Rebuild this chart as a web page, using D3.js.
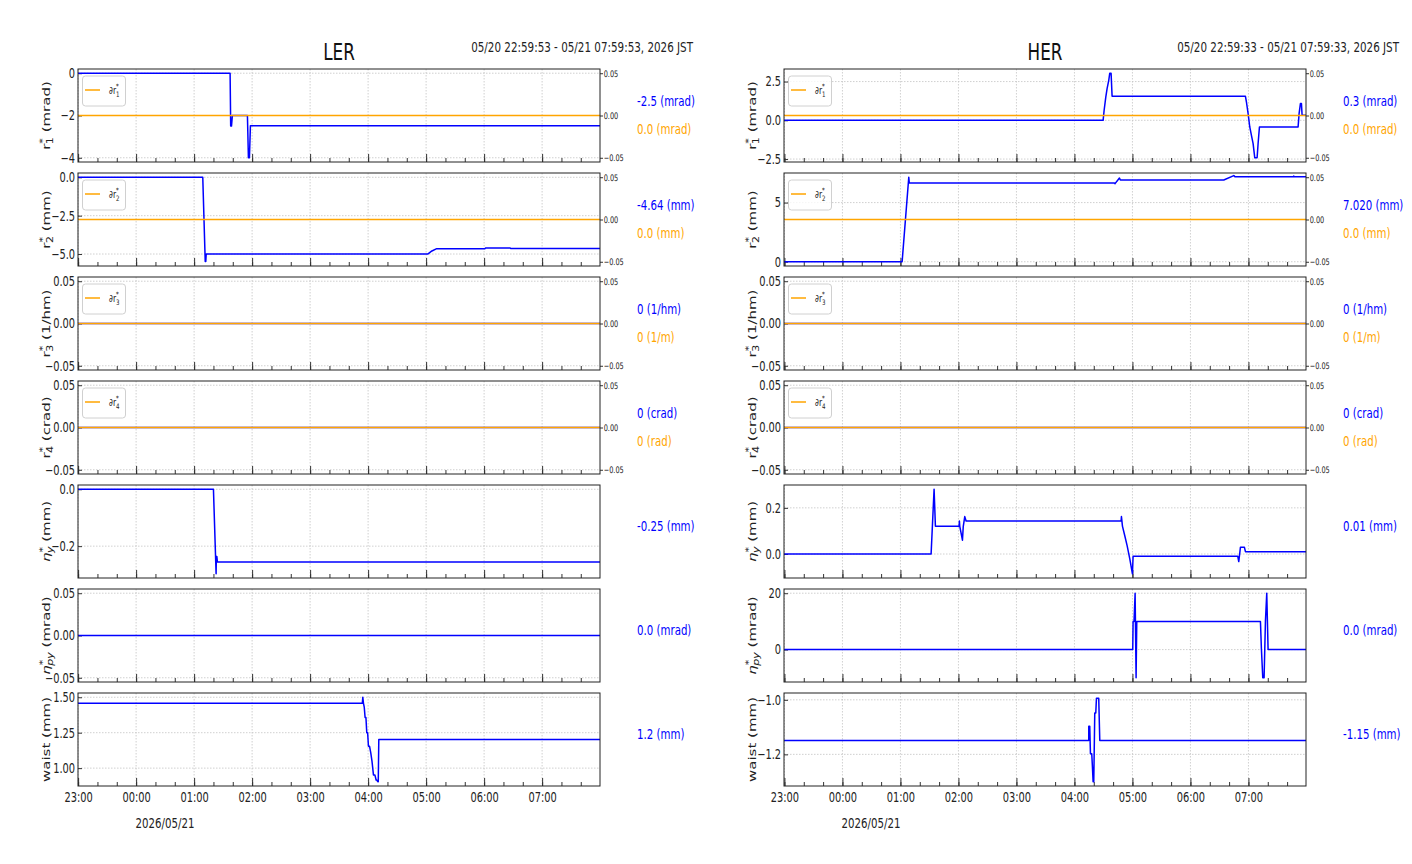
<!DOCTYPE html>
<html>
<head>
<meta charset="utf-8">
<style>
body { margin: 0; background: #fff; }
text { font-family: "DejaVu Sans", sans-serif; }
</style>
</head>
<body>
<svg id="chart" width="1412" height="864"></svg>
<script src="https://cdn.jsdelivr.net/npm/d3@7"></script>
<script>
// ---- data, [time, value] ----
var lerRange = ["22:59:53", "07:59:53"];
var herRange = ["22:59:33", "07:59:33"];

var lerR1 = [["22:59:53",0],["01:37:14",0],["01:37:50",-2.5],["01:38:40",-2.5],["01:39:35",-2.0],["01:55:09",-2.0],
  ["01:56:10",-4.0],["01:57:13",-4.0],["01:58:15",-2.48],["07:59:53",-2.48]];
var lerR2 = [["22:59:53",0],["01:08:57",0],["01:11:30",-5.48],["01:12:05",-5.48],["01:12:30",-4.99],["05:02:00",-4.99],
  ["05:06:00",-4.8],["05:11:00",-4.65],["06:01:00",-4.65],["06:01:30",-4.61],["06:27:00",-4.61],["06:27:30",-4.64],["07:59:53",-4.64]];
var lerR3 = [["22:59:53",0],["07:59:53",0]];
var lerR4 = [["22:59:53",0],["07:59:53",0]];
var lerEtaY = [["22:59:53",0],["01:20:00",0],["01:22:45",-0.297],["01:23:00",-0.236],["01:23:30",-0.236],["01:24:07",-0.256],["07:59:53",-0.256]];
var lerEtaPy = [["22:59:53",0],["07:59:53",0]];
var lerWaist = [["22:59:53",1.457],["03:54:00",1.457],["03:54:31",1.50],["03:55:12",1.457],["03:56:00",1.43],["03:56:53",1.357],
  ["03:57:45",1.357],["03:58:37",1.25],["03:59:30",1.25],["04:00:21",1.154],["04:01:30",1.154],["04:02:45",1.107],
  ["04:04:00",1.05],["04:05:31",0.952],["04:07:00",0.952],["04:08:17",0.916],["04:09:00",0.916],["04:10:00",0.904],
  ["04:10:30",0.904],["04:11:03",1.202],["07:59:53",1.202]];
var lerDr = [["22:59:53",0],["07:59:53",0]];

var herR1 = [["22:59:33",0],["04:29:40",0],["04:30:43",0.65],["04:32:26",1.5],["04:33:47",2.04],["04:35:30",2.58],
  ["04:36:33",3.04],["04:37:55",3.04],["04:38:57",1.55],["06:56:54",1.55],["06:57:56",1.18],["06:59:40",0.43],
  ["07:01:23",-0.43],["07:03:06",-0.97],["07:04:50",-1.5],["07:06:33",-2.42],["07:08:58",-2.42],["07:10:00",-1.5],
  ["07:11:23",-0.43],["07:51:22",-0.43],["07:52:24",0.43],["07:53:47",1.08],["07:54:50",1.08],["07:55:31",0.32],["07:59:33",0.32]];
var herR2 = [["22:59:33",0],["01:01:45",0],["01:08:38",7.14],["01:09:10",6.65],["04:41:24",6.65],["04:42:00",6.6],
  ["04:46:34",7.08],["04:47:30",6.91],["06:34:30",6.91],["06:44:50",7.28],["06:46:00",7.19],["07:46:30",7.19],
  ["07:46:50",7.24],["07:47:20",7.19],["07:59:33",7.19]];
var herR3 = [["22:59:33",0],["07:59:33",0]];
var herR4 = [["22:59:33",0],["07:59:33",0]];
var herEtaY = [["22:59:33",0],["01:31:44",0],["01:34:49",0.281],["01:36:11",0.12],["02:00:41",0.12],["02:01:00",0.143],
  ["02:01:23",0.12],["02:04:09",0.06],["02:05:00",0.12],["02:06:33",0.162],["02:07:56",0.143],["04:48:17",0.143],
  ["04:48:38",0.162],["04:49:40",0.121],["04:52:05",0.079],["04:54:30",0.036],["04:57:16",-0.021],["05:00:00",-0.086],
  ["05:00:41",-0.01],["06:48:58",-0.01],["06:50:00",-0.033],["06:51:43",0.029],["06:55:52",0.029],["06:56:54",0.01],["07:59:33",0.01]];
var herEtaPy = [["22:59:33",0],["05:00:20",0],["05:00:41",10],["05:01:40",10],["05:02:46",20],["05:03:47",-10],
  ["05:04:29",10],["07:12:25",10],["07:13:27",0],["07:14:50",-10],["07:16:12",-10],["07:17:35",10],["07:18:57",20],
  ["07:20:20",0],["07:59:33",0]];
var herWaist = [["22:59:33",-1.149],["04:14:49",-1.149],["04:14:50",-1.097],["04:15:50",-1.097],["04:16:34",-1.198],
  ["04:17:55",-1.198],["04:18:37",-1.246],["04:19:19",-1.30],["04:20:00",-1.30],["04:21:02",-1.048],["04:22:05",-1.048],
  ["04:22:46",-0.994],["04:25:08",-0.994],["04:26:13",-1.149],["07:59:33",-1.149]];
var herDr = [["22:59:33",0],["07:59:33",0]];

// labels
var lerValues = [["-2.5 (mrad)","0.0 (mrad)"],["-4.64 (mm)","0.0 (mm)"],["0 (1/hm)","0 (1/m)"],["0 (crad)","0 (rad)"],
  ["-0.25 (mm)"],["0.0 (mrad)"],["1.2 (mm)"]];
var herValues = [["0.3 (mrad)","0.0 (mrad)"],["7.020 (mm)","0.0 (mm)"],["0 (1/hm)","0 (1/m)"],["0 (crad)","0 (rad)"],
  ["0.01 (mm)"],["0.0 (mrad)"],["-1.15 (mm)"]];
var yLabels = [
  {b:"r", sup:"*", sub:"1", unit:" (mrad)"},
  {b:"r", sup:"*", sub:"2", unit:" (mm)"},
  {b:"r", sup:"*", sub:"3", unit:" (1/hm)"},
  {b:"r", sup:"*", sub:"4", unit:" (crad)"},
  {b:"\u03b7", it:true, sup:"*", sub:"y", unit:" (mm)"},
  {b:"\u03b7", it:true, sup:"*", sub:"py", unit:" (mrad)"},
  {b:"waist", unit:" (mm)"}
];
var legendSubs = ["1","2","3","4"];

// axis limits and ticks per panel
var lerAxes = [
  {domain:[-4.2,0.2], ticks:[-4,-2,0], fmt:"d"},
  {domain:[-5.78,0.28], ticks:[-5,-2.5,0], fmt:".1f"},
  {domain:[-0.055,0.055], ticks:[-0.05,0,0.05], fmt:".2f"},
  {domain:[-0.055,0.055], ticks:[-0.05,0,0.05], fmt:".2f"},
  {domain:[-0.312,0.015], ticks:[-0.2,0], fmt:".1f"},
  {domain:[-0.055,0.055], ticks:[-0.05,0,0.05], fmt:".2f"},
  {domain:[0.874,1.53], ticks:[1.0,1.25,1.5], fmt:".2f"}
];
var herAxes = [
  {domain:[-2.69,3.31], ticks:[-2.5,0,2.5], fmt:".1f"},
  {domain:[-0.36,7.5], ticks:[0,5], fmt:"d"},
  {domain:[-0.055,0.055], ticks:[-0.05,0,0.05], fmt:".2f"},
  {domain:[-0.055,0.055], ticks:[-0.05,0,0.05], fmt:".2f"},
  {domain:[-0.104,0.299], ticks:[0,0.2], fmt:".1f"},
  {domain:[-11.5,21.5], ticks:[0,20], fmt:"d"},
  {domain:[-1.316,-0.975], ticks:[-1.2,-1.0], fmt:".1f"}
];

var sides = [
  {name:"LER", left:78, range:lerRange, header:"05/20 22:59:53 - 05/21 07:59:53, 2026 JST",
   series:[lerR1,lerR2,lerR3,lerR4,lerEtaY,lerEtaPy,lerWaist], dr:lerDr, axes:lerAxes, values:lerValues},
  {name:"HER", left:784, range:herRange, header:"05/20 22:59:33 - 05/21 07:59:33, 2026 JST",
   series:[herR1,herR2,herR3,herR4,herEtaY,herEtaPy,herWaist], dr:herDr, axes:herAxes, values:herValues}
];

// ---- layout ----
var panelTop = 69, panelStep = 104, panelH = 93, plotW = 522;
var sx = 0.73;   // narrow look of the original lettering
var BLUE = "#0000ff", ORANGE = "#ffa500";

var svg = d3.select("#chart");
svg.append("rect").attr("width",1412).attr("height",864).attr("fill","#fff");

function parseT(s) {
  var h = +s.slice(0,2);
  return new Date((h >= 12 ? "2026-05-20T" : "2026-05-21T") + s);
}

function hText(parent, x, y, s, size, anchor, fill) {
  return parent.append("text")
    .attr("transform", "translate(" + x + "," + y + ") scale(" + sx + ",1)")
    .attr("font-size", size)
    .attr("text-anchor", anchor || "start")
    .attr("fill", fill || "#222")
    .text(s);
}

function yTitle(parent, x, y, lab) {
  var t = parent.append("text")
    .attr("transform", "translate(" + x + "," + y + ") rotate(-90) scale(1," + sx + ")")
    .attr("font-size", 15).attr("text-anchor", "middle").attr("fill", "#222");
  t.append("tspan").attr("font-style", lab.it ? "italic" : null).text(lab.b);
  if (lab.sup) {
    t.append("tspan").attr("font-size", 11).attr("dy", -6).text(lab.sup);
    t.append("tspan").attr("font-size", 11).attr("font-style", lab.it ? "italic" : null)
      .attr("dx", -6).attr("dy", 10).text(lab.sub);
    t.append("tspan").attr("dy", -4).text(lab.unit);
  } else {
    t.append("tspan").text(lab.unit);
  }
}

function styleAxis(g, size) {
  g.select(".domain").remove();
  g.selectAll(".tick line").attr("stroke", "#333");
  g.selectAll(".tick text").attr("font-size", size).attr("fill", "#222")
    .attr("font-family", "DejaVu Sans, sans-serif")
    .attr("transform", "scale(" + sx + ",1)");
}

sides.forEach(function(side) {
  var x = d3.scaleTime().domain(side.range.map(parseT)).range([0, plotW]);
  var hours = x.ticks(d3.timeHour.every(1));

  hText(svg, side.left + plotW / 2, 60, side.name, 23, "middle", "#111");
  hText(svg, side.left + plotW + 93, 52, side.header, 14.2, "end", "#222");

  side.series.forEach(function(data, i) {
    var ax = side.axes[i];
    var y0 = panelTop + i * panelStep;
    var g = svg.append("g").attr("transform", "translate(" + side.left + "," + y0 + ")");
    var y = d3.scaleLinear().domain(ax.domain).range([panelH, 0]);
    var last = i === side.series.length - 1;

    // grid
    g.append("g").selectAll("line").data(hours).join("line")
      .attr("x1", function(d) { return x(d); }).attr("x2", function(d) { return x(d); })
      .attr("y1", 0).attr("y2", panelH)
      .attr("stroke", "#c4c4c4").attr("stroke-width", 0.8).attr("stroke-dasharray", "1.5,1.5");
    g.append("g").selectAll("line").data(ax.ticks).join("line")
      .attr("x1", 0).attr("x2", plotW)
      .attr("y1", function(d) { return y(d); }).attr("y2", function(d) { return y(d); })
      .attr("stroke", "#c4c4c4").attr("stroke-width", 0.8).attr("stroke-dasharray", "1.5,1.5");

    // x ticks, pointing in
    g.append("g").attr("transform", "translate(0," + panelH + ")")
      .call(d3.axisBottom(x).ticks(d3.timeMinute.every(20)).tickSizeInner(-4).tickSizeOuter(0).tickFormat(""))
      .call(styleAxis, 13.5);
    g.append("g").attr("transform", "translate(0," + panelH + ")")
      .call(d3.axisBottom(x).ticks(d3.timeHour.every(1)).tickSizeInner(-8).tickSizeOuter(0).tickPadding(6)
        .tickFormat(last ? d3.timeFormat("%H:%M") : ""))
      .call(styleAxis, 13.5);

    // left axis
    g.append("g")
      .call(d3.axisLeft(y).tickValues(ax.ticks).tickFormat(d3.format(ax.fmt)).tickSizeInner(-4).tickSizeOuter(0).tickPadding(4))
      .call(styleAxis, 13.5);

    // blue series
    var line = d3.line().x(function(d) { return x(parseT(d[0])); }).y(function(d) { return y(d[1]); });
    g.append("path").datum(data).attr("d", line)
      .attr("fill", "none").attr("stroke", BLUE).attr("stroke-width", 1.5).attr("stroke-linejoin", "round");

    var vals = side.values[i];
    if (i < 4) {
      // twin axis with the orange correction
      var y2 = d3.scaleLinear().domain([-0.055, 0.055]).range([panelH, 0]);
      var line2 = d3.line().x(function(d) { return x(parseT(d[0])); }).y(function(d) { return y2(d[1]); });
      g.append("path").datum(side.dr).attr("d", line2)
        .attr("fill", "none").attr("stroke", ORANGE).attr("stroke-width", 1.5).attr("stroke-opacity", 1);
      g.append("g").attr("transform", "translate(" + plotW + ",0)")
        .call(d3.axisRight(y2).tickValues([-0.05, 0, 0.05]).tickFormat(d3.format(".2f")).tickSizeInner(3).tickSizeOuter(0).tickPadding(2))
        .call(styleAxis, 9);

      // legend
      var lg = g.append("g");
      lg.append("rect").attr("x", 4.5).attr("y", 7).attr("width", 43).attr("height", 30).attr("rx", 3)
        .attr("fill", "#fff").attr("fill-opacity", 0.8).attr("stroke", "#d0d0d0");
      lg.append("line").attr("x1", 7).attr("x2", 22).attr("y1", 21).attr("y2", 21)
        .attr("stroke", ORANGE).attr("stroke-width", 1.5);
      var lt = hText(lg, 31, 25, "", 10.5, "start", "#222");
      lt.append("tspan").text("\u2202r");
      lt.append("tspan").attr("font-size", 7.5).attr("dy", -5).text("*");
      lt.append("tspan").attr("font-size", 7.5).attr("dx", -4).attr("dy", 8).text(legendSubs[i]);

      hText(svg, side.left + plotW + 37, y0 + 37, vals[0], 14, "start", BLUE);
      hText(svg, side.left + plotW + 37, y0 + 65, vals[1], 14, "start", ORANGE);
    } else {
      hText(svg, side.left + plotW + 37, y0 + 46, vals[0], 14, "start", BLUE);
    }

    // frame
    g.append("rect").attr("width", plotW).attr("height", panelH)
      .attr("fill", "none").attr("stroke", "#222").attr("stroke-width", 1);

    yTitle(svg, side.left - 28, y0 + panelH / 2, yLabels[i]);
  });

  hText(svg, side.left + 87, 828, "2026/05/21", 14, "middle", "#222");
});
</script>
</body>
</html>
